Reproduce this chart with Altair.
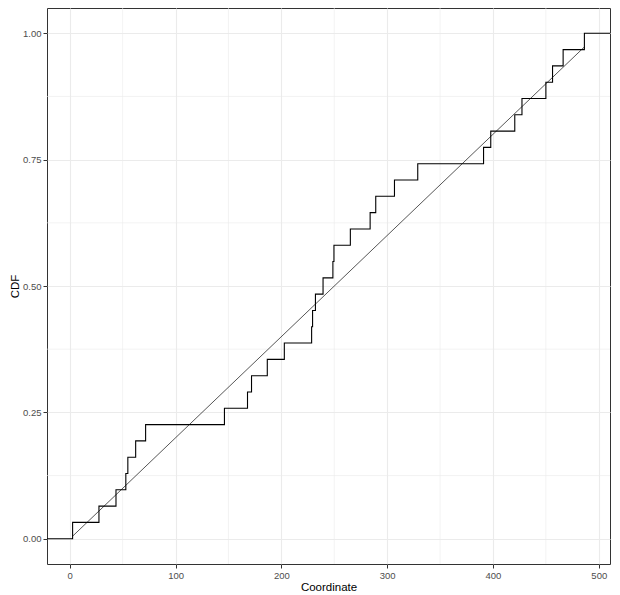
import altair as alt
import pandas as pd

# Observed coordinates (read from the ECDF steps)
coords = [2.7, 27.6, 43.7, 53.0, 54.9, 62.3, 71.7, 146.2, 168.0, 171.8,
          186.7, 202.8, 228.6, 229.5, 232.2, 239.4, 248.7, 249.7, 265.2,
          283.9, 289.2, 306.9, 328.9, 391.1, 397.9, 420.6, 427.4, 450.0,
          456.3, 466.3, 486.4]

# Reference (theoretical) CDF line end points
ref_x = [2.7, 486.4]
ref_cdf = [0.005, 0.973]

x_domain = [-21.5, 510.6]
y_domain = [-0.05, 1.05]
x_ticks = [0, 100, 200, 300, 400, 500]
x_minor = [50, 150, 250, 350, 450]
y_ticks = [0.0, 0.25, 0.5, 0.75, 1.0]
y_minor = [0.125, 0.375, 0.625, 0.875]

# Build the ECDF table (padded to the panel edges like stat_ecdf)
xs_sorted = sorted(coords)
n = len(xs_sorted)
rows = [{"x": x_domain[0], "F": 0.0}]
for i, v in enumerate(xs_sorted):
    rows.append({"x": v, "F": (i + 1) / n})
rows.append({"x": x_domain[1], "F": 1.0})
ecdf_df = pd.DataFrame(rows)
ref_df = pd.DataFrame({"x": ref_x, "F": ref_cdf})
xminor_df = pd.DataFrame({"v": x_minor})
yminor_df = pd.DataFrame({"v": y_minor})

FONT = "Liberation Sans"
xscale = alt.Scale(domain=x_domain, nice=False, zero=False)
yscale = alt.Scale(domain=y_domain, nice=False, zero=False)

x_axis = alt.Axis(values=x_ticks, title="Coordinate", format="d")
y_axis = alt.Axis(values=y_ticks, title="CDF", format=".2f")

minor_x = alt.Chart(xminor_df).mark_rule(color="#EBEBEB", strokeWidth=0.6).encode(
    x=alt.X("v:Q", scale=xscale, axis=x_axis)
)
minor_y = alt.Chart(yminor_df).mark_rule(color="#EBEBEB", strokeWidth=0.6).encode(
    y=alt.Y("v:Q", scale=yscale, axis=y_axis)
)
diag = alt.Chart(ref_df).mark_line(color="#2b2b2b", strokeWidth=0.8, clip=True).encode(
    x=alt.X("x:Q", scale=xscale, axis=x_axis),
    y=alt.Y("F:Q", scale=yscale, axis=y_axis),
)
step = alt.Chart(ecdf_df).mark_line(
    interpolate="step-after", color="black", strokeWidth=1.1, clip=True
).encode(
    x=alt.X("x:Q", scale=xscale, axis=x_axis),
    y=alt.Y("F:Q", scale=yscale, axis=y_axis),
)

chart = (
    alt.layer(minor_x, minor_y, diag, step)
    .properties(
        width=563,
        height=556,
        autosize=alt.AutoSizeParams(type="none"),
        padding={"left": 39, "top": 0, "right": 2, "bottom": 30},
    )
    .configure_view(stroke="#333333", strokeWidth=1)
    .configure_axis(
        grid=True,
        gridColor="#EBEBEB",
        gridWidth=1.1,
        domain=False,
        tickColor="#333333",
        tickSize=4,
        tickWidth=1,
        labelColor="#4D4D4D",
        labelFont=FONT,
        labelFontSize=9.5,
        labelPadding=2,
        titleFont=FONT,
        titleFontSize=11.5,
        titleFontWeight="normal",
        titleColor="#000000",
    )
    .configure_axisX(titlePadding=2)
    .configure_axisY(titlePadding=2)
)

chart.save("out.html", embed_options={"renderer": "svg", "actions": False})
